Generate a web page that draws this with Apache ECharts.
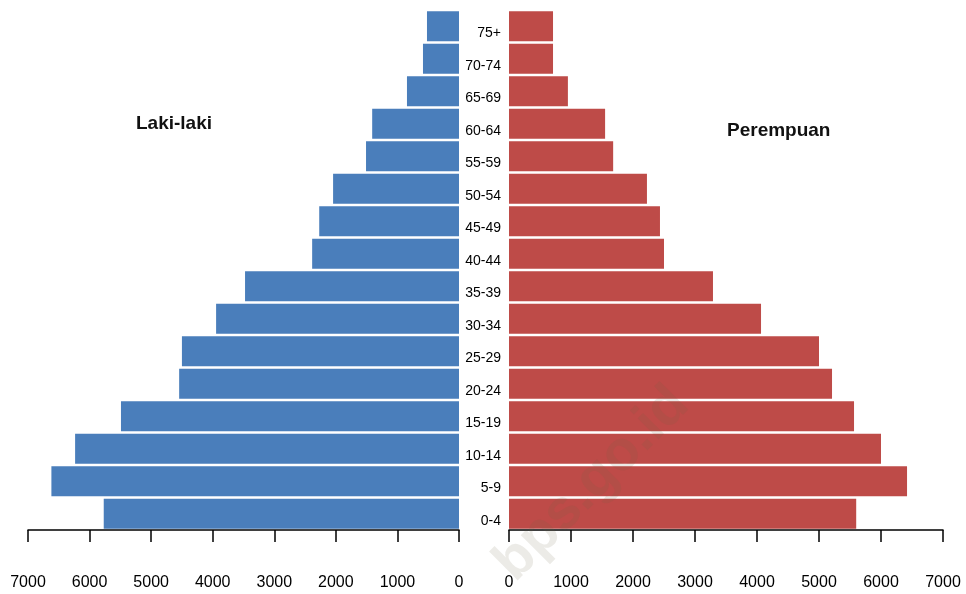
<!DOCTYPE html>
<html>
<head>
<meta charset="utf-8">
<script src="https://cdn.jsdelivr.net/npm/echarts@6/dist/echarts.min.js"></script>
<style>html,body{margin:0;padding:0;background:#fff}#c{width:966px;height:594px}</style>
</head>
<body>
<div id="c"></div>
<script>
const categories = ['0-4','5-9','10-14','15-19','20-24','25-29','30-34','35-39','40-44','45-49','50-54','55-59','60-64','65-69','70-74','75+'];
const lakiLaki = [5770, 6620, 6235, 5490, 4545, 4500, 3945, 3475, 2385, 2270, 2045, 1510, 1410, 845, 585, 520];
const perempuan = [5600, 6420, 6000, 5565, 5210, 5000, 4065, 3290, 2500, 2435, 2225, 1680, 1550, 950, 710, 710];
const xTicks = [0, 1000, 2000, 3000, 4000, 5000, 6000, 7000];

const font = "'Liberation Sans', Arial, sans-serif";
const chart = echarts.init(document.getElementById('c'));
const xAxisCommon = {
  type: 'value', min: xTicks[0], max: xTicks[xTicks.length - 1], interval: xTicks[1] - xTicks[0],
  splitLine: { show: false },
  axisLine: { show: true, lineStyle: { color: '#000', width: 1.5 } },
  axisTick: { show: true, length: 12, lineStyle: { color: '#000', width: 1.5 } },
  axisLabel: { margin: 45, fontSize: 16, color: '#000', fontFamily: font, formatter: v => String(v) }
};
chart.setOption({
  animation: false,
  backgroundColor: '#fff',
  graphic: [
    { type: 'text', left: 136, top: 114, style: { text: 'Laki-laki', font: "bold 19px " + font, fill: '#111' } },
    { type: 'text', left: 727, top: 121, style: { text: 'Perempuan', font: "bold 19px " + font, fill: '#111' } },
    { type: 'text', x: 592, y: 484, rotation: Math.PI * 0.25,
      style: { text: 'bps.go.id', font: "bold 56px " + font, fill: 'rgba(110,100,70,0.13)', align: 'center', verticalAlign: 'middle' }, z: 100 }
  ],
  grid: [
    { left: 28, right: 507, top: 10, bottom: 64 },
    { left: 509, right: 23, top: 10, bottom: 64 }
  ],
  xAxis: [
    Object.assign({ gridIndex: 0, inverse: true }, xAxisCommon),
    Object.assign({ gridIndex: 1 }, xAxisCommon)
  ],
  yAxis: [
    { type: 'category', gridIndex: 0, data: categories, position: 'right',
      axisLine: { show: false }, axisTick: { show: false }, axisLabel: { show: false } },
    { type: 'category', gridIndex: 1, data: categories, position: 'left',
      axisLine: { show: false }, axisTick: { show: false },
      axisLabel: { margin: 8, fontSize: 14, color: '#000', fontFamily: font, verticalAlign: 'top', lineHeight: 14 } }
  ],
  series: [
    { type: 'bar', name: 'Laki-laki', xAxisIndex: 0, yAxisIndex: 0, data: lakiLaki, barCategoryGap: '7%',
      itemStyle: { color: '#4a7ebb' } },
    { type: 'bar', name: 'Perempuan', xAxisIndex: 1, yAxisIndex: 1, data: perempuan, barCategoryGap: '7%',
      itemStyle: { color: '#be4b48' } }
  ]
});
</script>
</body>
</html>
